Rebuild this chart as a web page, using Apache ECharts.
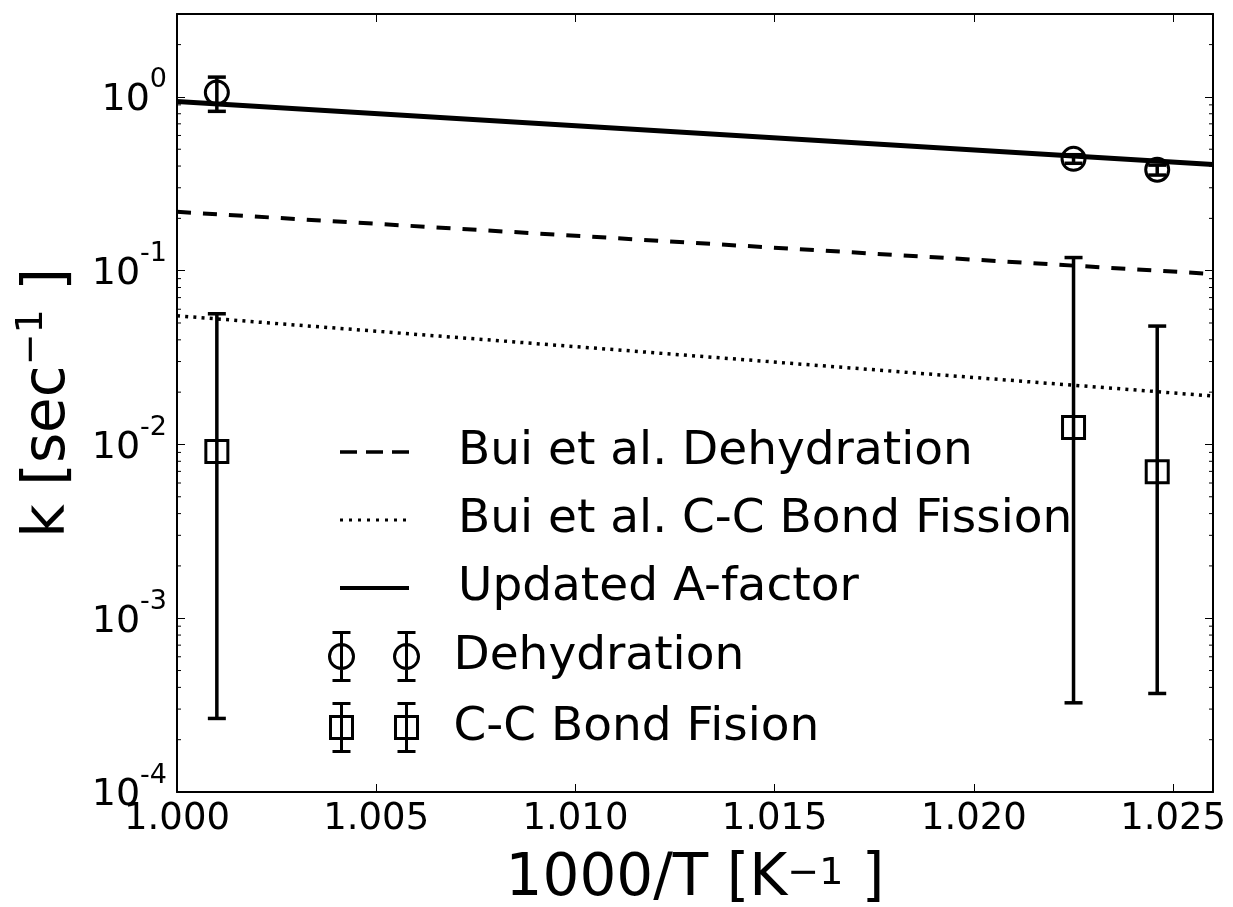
<!DOCTYPE html>
<html>
<head>
<meta charset="utf-8">
<script src="https://cdn.jsdelivr.net/npm/echarts@6/dist/echarts.min.js"></script>
<style>
html,body{margin:0;padding:0;background:#fff;}
#chart{width:1233px;height:907px;}
</style>
</head>
<body>
<div id="chart"></div>
<script>
// ---- data ----
const xLine = [1.000, 1.026];
const updatedA = [0.94, 0.408];          // solid line
const buiDehydration = [0.218, 0.0957];  // dashed line
const buiCCFission = [0.055, 0.0190];    // dotted line

const xPts = [1.001, 1.0225, 1.0246];
const dehydK = [1.06, 0.44, 0.381];
const dehydLow = [0.826, 0.415, 0.355];
const dehydHigh = [1.30, 0.465, 0.405];
const ccK = [0.0091, 0.0125, 0.00697];
const ccLow = [2.65e-4, 3.26e-4, 3.69e-4];
const ccHigh = [0.0565, 0.119, 0.048];

const xMin = 1.000, xMax = 1.026, xStep = 0.005;
const yMin = 1e-4, yMax = 3;
const yMinorTicks = [];
for (let e = -4; e <= 0; e++) for (let m = 2; m <= 9; m++) { const v = m * Math.pow(10, e); if (v < yMax) yMinorTicks.push(v); }

const names = ['Bui et al. Dehydration', 'Bui et al. C-C Bond Fission', 'Updated A-factor', 'Dehydration', 'C-C Bond Fision'];

const FONT = 'DejaVu Sans';
const chart = echarts.init(document.getElementById('chart'), null, {renderer: 'canvas'});

function lineData(ys) { return xLine.map((x, i) => [x, ys[i]]); }
function errData(k, lo, hi) { return xPts.map((x, i) => [x, k[i], lo[i], hi[i]]); }

function errRender(shape) {
  return function (params, api) {
    const x = api.value(0), y = api.value(1), lo = api.value(2), hi = api.value(3);
    const c = api.coord([x, y]);
    const pl = api.coord([x, lo]);
    const ph = api.coord([x, hi]);
    const cap = 9;
    const st = {stroke: '#000', lineWidth: 3.5, fill: null};
    const children = [
      {type: 'line', shape: {x1: c[0], y1: pl[1], x2: c[0], y2: ph[1]}, style: st},
      {type: 'line', shape: {x1: c[0] - cap, y1: pl[1], x2: c[0] + cap, y2: pl[1]}, style: st},
      {type: 'line', shape: {x1: c[0] - cap, y1: ph[1], x2: c[0] + cap, y2: ph[1]}, style: st}
    ];
    if (shape === 'circle') {
      children.push({type: 'circle', shape: {cx: c[0], cy: c[1], r: 11.5}, style: {stroke: '#000', lineWidth: 3, fill: null}});
    } else {
      children.push({type: 'rect', shape: {x: c[0] - 11, y: c[1] - 11, width: 22, height: 22}, style: {stroke: '#000', lineWidth: 3, fill: null}});
    }
    return {type: 'group', children: children};
  };
}

const phiIcon = 'path://M12,0 L12,48 M3,0 L21,0 M3,48 L21,48 M24,24 A12,12 0 1 1 0,24 A12,12 0 1 1 24,24 ' +
  'M77,0 L77,48 M68,0 L86,0 M68,48 L86,48 M89,24 A12,12 0 1 1 65,24 A12,12 0 1 1 89,24';
const sqIcon = 'path://M12,0 L12,48 M3,0 L21,0 M3,48 L21,48 M1,13 L23,13 L23,35 L1,35 Z ' +
  'M77,0 L77,48 M68,0 L86,0 M68,48 L86,48 M66,13 L88,13 L88,35 L66,35 Z';

const xNameRich = {
  m: {fontFamily: FONT, fontSize: 58, color: '#000', lineHeight: 71, verticalAlign: 'middle'},
  s: {fontFamily: FONT, fontSize: 38, color: '#000', verticalAlign: 'top', padding: [11, 0, 0, 0]}
};
const yNameRich = {
  m: {fontFamily: FONT, fontSize: 58, color: '#000', lineHeight: 71, verticalAlign: 'middle'},
  s: {fontFamily: FONT, fontSize: 38, color: '#000', verticalAlign: 'top'}
};

const option = {
  animation: false,
  backgroundColor: '#fff',
  textStyle: {fontFamily: FONT, color: '#000'},
  grid: {left: 177, right: 20, top: 14, bottom: 115, containLabel: false, outerBoundsMode: 'none'},
  legend: [
    {
      orient: 'vertical', left: 333, top: 423, itemWidth: 69, itemHeight: 48, itemGap: 20,
      textStyle: {fontFamily: FONT, fontSize: 47, color: '#000', lineHeight: 48, padding: [0, 0, 0, 44]},
      selectedMode: false,
      data: [
        {name: names[0], itemStyle: {opacity: 0}, lineStyle: {color: '#000', width: 3.5, type: [17, 9]}},
        {name: names[1], itemStyle: {opacity: 0}, lineStyle: {color: '#000', width: 3, type: [3, 6]}},
        {name: names[2], itemStyle: {opacity: 0}, lineStyle: {color: '#000', width: 4, type: 'solid'}}
      ]
    },
    {
      orient: 'vertical', left: 323, top: 626, itemWidth: 89, itemHeight: 48, itemGap: 20,
      textStyle: {fontFamily: FONT, fontSize: 47, color: '#000', lineHeight: 48, padding: [0, 0, 0, 30]},
      selectedMode: false,
      data: [
        {name: names[3], icon: phiIcon, itemStyle: {color: 'rgba(0,0,0,0)', borderColor: '#000', borderWidth: 3}},
        {name: names[4], icon: sqIcon, itemStyle: {color: 'rgba(0,0,0,0)', borderColor: '#000', borderWidth: 3}}
      ]
    }
  ],
  xAxis: [
    {
      type: 'value', position: 'bottom', min: xMin, max: xMax, interval: xStep,
      name: '{m|1000/T [K}{s|−1}{m| ]}', nameLocation: 'middle', nameGap: 52,
      nameTextStyle: {fontFamily: FONT, fontSize: 58, color: '#000', rich: xNameRich},
      axisLine: {show: true, onZero: false, lineStyle: {color: '#000', width: 2}},
      axisTick: {show: true, inside: true, length: 8, lineStyle: {color: '#000', width: 1}},
      axisLabel: {fontFamily: FONT, fontSize: 37, color: '#000', margin: 9, showMaxLabel: false,
        formatter: v => v.toFixed(3)},
      splitLine: {show: false}
    },
    {
      type: 'value', position: 'top', min: xMin, max: xMax, interval: xStep,
      axisLine: {show: true, onZero: false, lineStyle: {color: '#000', width: 2}},
      axisTick: {show: true, inside: true, length: 8, lineStyle: {color: '#000', width: 1}},
      axisLabel: {show: false}, splitLine: {show: false}
    }
  ],
  yAxis: [
    {
      type: 'log', logBase: 10, position: 'left', min: yMin, max: yMax,
      name: '{m|k [sec}{s|−1}{m| ]}', nameLocation: 'middle', nameGap: 93, nameRotate: 90,
      nameTextStyle: {fontFamily: FONT, fontSize: 58, color: '#000', rich: yNameRich},
      axisLine: {show: true, onZero: false, lineStyle: {color: '#000', width: 2}},
      axisTick: {show: true, inside: true, length: 8, lineStyle: {color: '#000', width: 1}},
      axisLabel: {
        fontFamily: FONT, color: '#000', margin: 10,
        formatter: v => {
          const l = Math.log10(v), e = Math.round(l);
          if (Math.abs(l - e) > 1e-6) return '';
          return '{b|10}{s|' + (e < 0 ? '-' : '') + Math.abs(e) + '}';
        },
        rich: {
          b: {fontFamily: FONT, fontSize: 38, color: '#000', lineHeight: 68, verticalAlign: 'middle', padding: [7, 0, 0, 0]},
          s: {fontFamily: FONT, fontSize: 27, color: '#000', verticalAlign: 'top', padding: [4, 0, 0, 0]}
        }
      },
      splitLine: {show: false}, minorTick: {show: false}
    },
    {
      type: 'log', logBase: 10, position: 'right', min: yMin, max: yMax,
      axisLine: {show: true, onZero: false, lineStyle: {color: '#000', width: 2}},
      axisTick: {show: true, inside: true, length: 8, lineStyle: {color: '#000', width: 1}},
      axisLabel: {show: false}, splitLine: {show: false}
    }
  ],
  series: [
    {
      name: names[0], type: 'line', data: lineData(buiDehydration), symbol: 'none', showSymbol: false,
      lineStyle: {color: '#000', width: 4, type: [14, 12]}, itemStyle: {color: '#000'}, z: 2
    },
    {
      name: names[1], type: 'line', data: lineData(buiCCFission), symbol: 'none', showSymbol: false,
      lineStyle: {color: '#000', width: 3.5, type: [3, 5.2]}, itemStyle: {color: '#000'}, z: 2
    },
    {
      name: names[2], type: 'line', data: lineData(updatedA), symbol: 'none', showSymbol: false,
      lineStyle: {color: '#000', width: 5}, itemStyle: {color: '#000'}, z: 2
    },
    {
      name: names[3], type: 'custom', data: errData(dehydK, dehydLow, dehydHigh),
      encode: {x: 0, y: 1}, renderItem: errRender('circle'), itemStyle: {color: '#000'}, z: 3
    },
    {
      name: names[4], type: 'custom', data: errData(ccK, ccLow, ccHigh),
      encode: {x: 0, y: 1}, renderItem: errRender('square'), itemStyle: {color: '#000'}, z: 3
    },
    {
      name: 'minor-ticks', type: 'custom', silent: true, clip: false,
      data: yMinorTicks.map(v => [xMin, v]), encode: {x: 0, y: 1},
      renderItem: function (params, api) {
        const v = api.value(1);
        const a = api.coord([xMin, v]);
        const b = api.coord([xMax, v]);
        const st = {stroke: '#000', lineWidth: 1};
        return {type: 'group', children: [
          {type: 'line', shape: {x1: a[0], y1: a[1], x2: a[0] + 4, y2: a[1]}, style: st},
          {type: 'line', shape: {x1: b[0] - 4, y1: b[1], x2: b[0], y2: b[1]}, style: st}
        ]};
      },
      z: 1
    }
  ]
};
chart.setOption(option);
</script>
</body>
</html>
